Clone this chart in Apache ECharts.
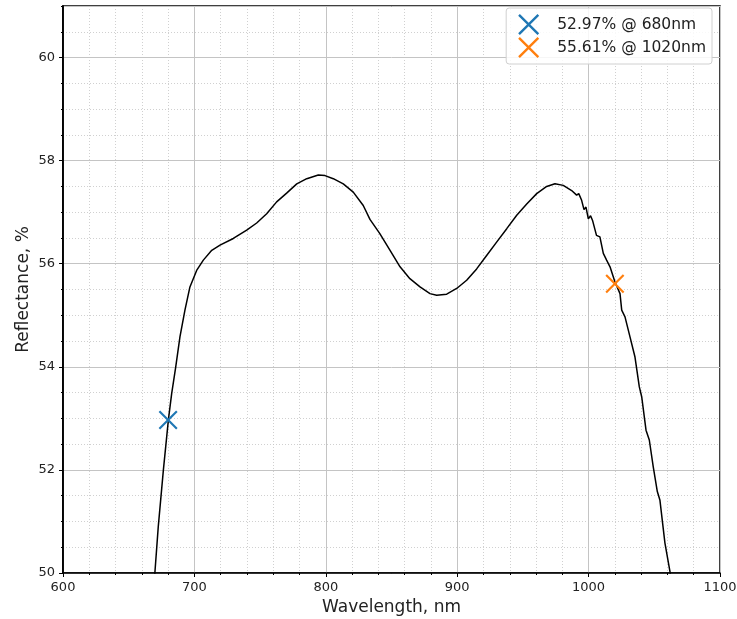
<!DOCTYPE html>
<html>
<head>
<meta charset="utf-8">
<script src="https://cdn.jsdelivr.net/npm/echarts@6/dist/echarts.min.js"></script>
<style>
  html, body { margin: 0; padding: 0; background: #fff; }
  #chart { width: 737px; height: 619px; }
</style>
</head>
<body>
<div id="chart"></div>
<script>
// spectrum
const wavelengths = [
  668, 670, 672.5, 676.4, 680.2, 682.7, 685.8, 689, 692.8, 696.6, 701.7, 706.8, 713.2, 719.5,
  729.6, 739.8, 747.4, 755, 762.6, 770.2, 777.9, 785.5, 794.3, 799.4, 805.7, 813.3, 820.9,
  828.5, 833.6, 841, 848.9, 856.5, 864, 871.7, 879.3, 884.4, 892, 899.6, 907.2, 914.8, 922.4,
  930, 937.7, 945.3, 952.9, 960.5, 968.1, 974.4, 980.7, 987.1, 990.9, 992.5, 994.7, 996.5,
  998, 999.8, 1001.5, 1003, 1006, 1008.6, 1011.2, 1013.7, 1016.3, 1020, 1023.9, 1025.2, 1027.7,
  1031.5, 1035.3, 1038.6, 1040.4, 1043.7, 1046.2, 1049.2, 1052.3, 1054.3, 1058.1, 1061.9, 1064
];
const reflectance = [
  49.4, 50.03, 50.9, 52.0, 52.97, 53.48, 54.0, 54.58, 55.1, 55.55, 55.87, 56.07, 56.26, 56.36,
  56.49, 56.65, 56.79, 56.97, 57.2, 57.37, 57.55, 57.65, 57.72, 57.71, 57.65, 57.55, 57.39,
  57.13, 56.86, 56.59, 56.26, 55.94, 55.71, 55.55, 55.42, 55.39, 55.41, 55.52, 55.68, 55.9, 56.16,
  56.42, 56.68, 56.94, 57.16, 57.36, 57.5, 57.55, 57.52, 57.42, 57.33, 57.36, 57.23, 57.05,
  57.1, 56.87, 56.93, 56.84, 56.55, 56.52, 56.2, 56.07, 55.94, 55.65, 55.42, 55.1, 54.97,
  54.58, 54.19, 53.61, 53.42, 52.77, 52.58, 52.06, 51.58, 51.41, 50.58, 50.03, 49.6
];

// marked points
const markNames = ['52.97% @ 680nm', '55.61% @ 1020nm'];
const markX = [680, 1020];
const markY = [52.97, 55.61];
const markColors = ['#1f77b4', '#ff7f0e'];

const xTicks = [600, 700, 800, 900, 1000, 1100];
const yTicks = [50, 52, 54, 56, 58, 60];

const crossPath = 'path://M0,1.6L1.6,0L10,8.4L18.4,0L20,1.6L11.6,10L20,18.4L18.4,20L10,11.6L1.6,20L0,18.4L8.4,10Z';

const chart = echarts.init(document.getElementById('chart'));

const lineData = wavelengths.map((w, i) => [w, reflectance[i]]);

const markerSeries = markNames.map((name, i) => ({
  name: name,
  type: 'scatter',
  yAxisIndex: 1,
  symbol: crossPath,
  symbolSize: 19,
  itemStyle: { color: markColors[i], opacity: 1 },
  data: [[markX[i], markY[i]]],
  z: 5
}));

const option = {
  animation: false,
  backgroundColor: '#fff',
  textStyle: { fontFamily: 'DejaVu Sans' },
  grid: {
    left: 63, right: 17, top: 6, bottom: 46,
    outerBoundsMode: 'none',
    containLabel: false,
    show: true, borderColor: '#000', borderWidth: 1.5
  },
  legend: {
    orient: 'vertical',
    right: 25,
    top: 8,
    data: markNames,
    itemWidth: 21,
    itemHeight: 21,
    itemGap: 2,
    padding: [6, 6, 6, 12],
    borderColor: '#d0d0d0',
    borderWidth: 1,
    borderRadius: 3,
    backgroundColor: 'rgba(255,255,255,0.85)',
    textStyle: { fontSize: 15.5, color: '#222', padding: [0, 0, 0, 13] }
  },
  xAxis: {
    type: 'value',
    min: xTicks[0],
    max: xTicks[xTicks.length - 1],
    interval: 100,
    name: 'Wavelength, nm',
    nameLocation: 'middle',
    nameGap: 26,
    nameMoveOverlap: false,
    nameTextStyle: { fontSize: 17, color: '#222' },
    axisLine: { lineStyle: { color: '#000', width: 1.5 } },
    axisTick: { length: 4, lineStyle: { color: '#000' } },
    minorTick: { show: true, splitNumber: 5, length: 2, lineStyle: { color: '#000' } },
    axisLabel: { fontSize: 13, color: '#222', margin: 8, formatter: v => String(v) },
    splitLine: { show: true, lineStyle: { color: '#c4c4c4', width: 1 } },
    minorSplitLine: { show: true, lineStyle: { color: '#c4c4c4', width: 0.8, type: [1, 2] } }
  },
  yAxis: [
    {
      // minor grid every 0.5
      type: 'value',
      min: yTicks[0],
      max: 61,
      interval: 0.5,
      axisLine: { show: true, lineStyle: { color: '#000', width: 1.5 } },
      axisTick: { length: 2, lineStyle: { color: '#000' } },
      axisLabel: { show: false },
      splitLine: { show: true, lineStyle: { color: '#c4c4c4', width: 0.8, type: [1, 2] } }
    },
    {
      type: 'value',
      position: 'left',
      min: yTicks[0],
      max: 61,
      interval: 2,
      name: 'Reflectance, %',
      nameLocation: 'middle',
      nameGap: 31,
      nameMoveOverlap: false,
      nameTextStyle: { fontSize: 17, color: '#222' },
      axisLine: { show: true, lineStyle: { color: '#000', width: 1.5 } },
      axisTick: { length: 4, lineStyle: { color: '#000' } },
      axisLabel: { fontSize: 13, color: '#222', margin: 8, showMaxLabel: false },
      splitLine: { show: true, lineStyle: { color: '#c4c4c4', width: 1 } }
    }
  ],
  series: [
    {
      name: 'spectrum',
      type: 'line',
      yAxisIndex: 1,
      data: lineData,
      showSymbol: false,
      clip: true,
      lineStyle: { color: '#000', width: 1.5 },
      z: 3
    }
  ].concat(markerSeries)
};

chart.setOption(option);
</script>
</body>
</html>
